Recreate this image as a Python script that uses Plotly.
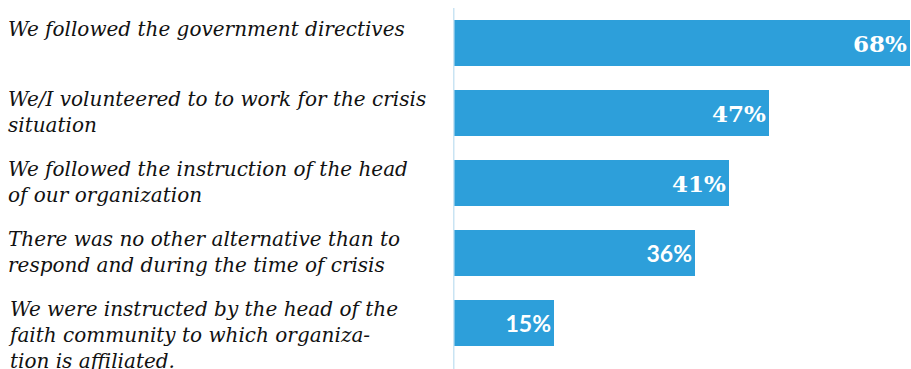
import plotly.graph_objects as go

# Survey responses (top to bottom) and their shares in percent
reasons = [
    "We followed the government directives",
    "We/I volunteered to to work for the crisis<br>situation",
    "We followed the instruction of the head<br>of our organization",
    "There was no other alternative than to<br>respond and during the time of crisis",
    "We were instructed by the head of the<br>faith community to which organiza-<br>tion is affiliated.",
]
shares = [68, 47, 41, 36, 15]
value_fonts = ["DejaVu Serif", "DejaVu Serif", "DejaVu Serif", "Lato", "Lato"]

BAR_BLUE = "#2d9fda"
AXIS_BLUE = "#c9e4f3"
BAR_WIDTH = 0.645

cats = list(range(len(reasons)))

fig = go.Figure(
    go.Bar(
        x=shares,
        y=cats,
        orientation="h",
        marker=dict(color=BAR_BLUE, line=dict(width=0)),
        width=BAR_WIDTH,
        texttemplate="%{x}%",
        textposition="inside",
        insidetextanchor="end",
        constraintext="none",
        textfont=dict(color="white", size=23, family=value_fonts, weight="bold"),
        cliponaxis=False,
        hoverinfo="skip",
    )
)

# Category labels, left aligned at the page edge, hung from the top of each bar
for c, label in zip(cats, reasons):
    fig.add_annotation(
        x=0, xref="paper", xanchor="left", xshift=6,
        y=c - BAR_WIDTH / 2, yref="y", yanchor="top", yshift=5,
        text=label, showarrow=False, align="left",
        font=dict(family="DejaVu Serif", size=20, style="italic", color="#111111"),
    )

# Vertical baseline
fig.add_shape(
    type="line", xref="x", x0=0, x1=0, yref="paper", y0=-0.04, y1=1.0,
    line=dict(color=AXIS_BLUE, width=3), layer="above",
)

fig.update_layout(
    width=911, height=369,
    margin=dict(l=0, r=0, t=8, b=11),
    paper_bgcolor="white", plot_bgcolor="white",
    showlegend=False,
    bargap=0,
    xaxis=dict(domain=[453 / 911, 1], range=[0, 68.1], visible=False, fixedrange=True),
    yaxis=dict(range=[len(reasons) - 0.5, -0.5], visible=False, fixedrange=True),
)

fig.write_html("out.html", config={"displayModeBar": False})
